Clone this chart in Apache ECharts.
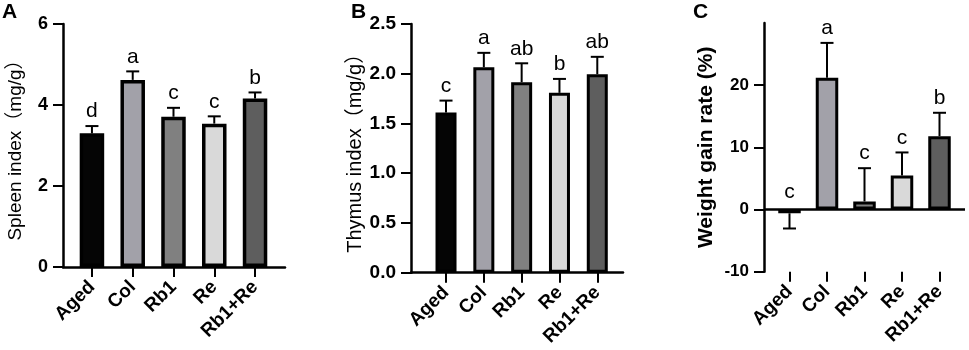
<!DOCTYPE html>
<html>
<head>
<meta charset="utf-8">
<script src="https://cdn.jsdelivr.net/npm/echarts@6.0.0/dist/echarts.min.js"></script>
<style>
html, body { margin: 0; padding: 0; background: #fff; }
#chart { width: 969px; height: 350px; }
</style>
</head>
<body>
<div id="chart"></div>
<script>
const categories = ['Aged', 'Col', 'Rb1', 'Re', 'Rb1+Re'];

// panel A: spleen index
const spleenMean = [3.30, 4.62, 3.71, 3.54, 4.16];
const spleenErr = [0.18, 0.21, 0.22, 0.18, 0.15];
const spleenLetters = ['d', 'a', 'c', 'c', 'b'];
const spleenTicks = [0, 2, 4, 6];

// panel B: thymus index
const thymusMean = [1.61, 2.065, 1.915, 1.808, 1.995];
const thymusErr = [0.12, 0.145, 0.19, 0.14, 0.175];
const thymusLetters = ['c', 'a', 'ab', 'b', 'ab'];
const thymusTicks = [0, 0.5, 1.0, 1.5, 2.0, 2.5];

// panel C: weight gain rate
const weightMean = [-0.6, 21.2, 1.3, 5.48, 11.8];
const weightErr = [2.45, 5.6, 5.35, 3.7, 3.76];
const weightLetters = ['c', 'a', 'c', 'c', 'b'];
const weightTicks = [-10, 0, 10, 20];

const barColors = ['#050505', '#a2a1a9', '#808080', '#d9d9d9', '#5e5e5e'];
const FONT = "'Liberation Sans', Arial, 'Noto Sans CJK SC', sans-serif";
const catIdx = categories.map((c, i) => i);

const panels = [
    { grid: { left: 63, top: 24, width: 222, height: 243 }, xmin: -0.71, xmax: 4.735,
      ymin: 0, ymax: 6, interval: 2, ticks: spleenTicks, fmt: v => String(v), tickSize: 18,
      mean: spleenMean, err: spleenErr, letters: spleenLetters,
      name: 'Spleen index（mg/g）', nameGap: 38, nameSize: 19, nameBold: 'normal',
      barWidth: 24.5, border: 3.5 },
    { grid: { left: 411, top: 24, width: 212, height: 248.7 }, xmin: -0.926, xmax: 4.68,
      ymin: 0, ymax: 2.5, interval: 0.5, ticks: thymusTicks, fmt: v => v.toFixed(1), tickSize: 19,
      mean: thymusMean, err: thymusErr, letters: thymusLetters,
      name: 'Thymus index（mg/g）', nameGap: 42, nameSize: 20, nameBold: 'normal',
      barWidth: 21, border: 3 },
    { grid: { left: 764, top: 23, width: 201, height: 248.7 }, xmin: -0.68, xmax: 4.68,
      ymin: -10, ymax: 30, interval: 10, ticks: weightTicks, fmt: v => v === 30 ? '' : String(v), tickSize: 17,
      mean: weightMean, err: weightErr, letters: weightLetters,
      name: 'Weight gain rate (%)', nameGap: 47, nameSize: 21, nameBold: 'bold',
      barWidth: 22.5, border: 3, zeroLine: true }
];

function errorRenderer(letters) {
    return function (params, api) {
        const i = api.value(0), v = api.value(1), e = api.value(2);
        const end = v < 0 ? v - e : v + e;
        const p0 = api.coord([i, v]);
        const p1 = api.coord([i, end]);
        const topY = v < 0 ? api.coord([i, 0])[1] - 3 : p1[1];
        const half = 6.5;
        const st = { stroke: '#000', lineWidth: 2 };
        return {
            type: 'group',
            children: [
                { type: 'line', shape: { x1: p0[0], y1: p0[1], x2: p1[0], y2: p1[1] }, style: st },
                { type: 'line', shape: { x1: p1[0] - half, y1: p1[1], x2: p1[0] + half, y2: p1[1] }, style: st },
                { type: 'text', x: p1[0], y: topY - 4,
                  style: { text: letters[params.dataIndex], fill: '#000', font: '21px ' + FONT,
                           align: 'center', verticalAlign: 'bottom' } }
            ]
        };
    };
}

const panelTitle = (t, x) => ({ text: t, left: x, top: 2, padding: 0,
    textStyle: { fontSize: 21, fontWeight: 'bold', color: '#000', fontFamily: FONT } });

const option = {
    animation: false,
    backgroundColor: '#fff',
    title: [panelTitle('A', 2), panelTitle('B', 351), panelTitle('C', 693)],
    grid: panels.map(p => p.grid),
    xAxis: panels.map((p, k) => ({
        gridIndex: k, type: 'value', min: p.xmin, max: p.xmax,
        splitLine: { show: false },
        axisLine: { show: !p.zeroLine, onZero: false, lineStyle: { color: '#000', width: 2.5 } },
        axisTick: { show: true, customValues: catIdx, length: 10, lineStyle: { color: '#000', width: 2 } },
        axisLabel: { customValues: catIdx, formatter: v => categories[v], rotate: 45, margin: 17,
                     fontSize: 19, fontWeight: 'bold', color: '#000', fontFamily: FONT }
    })),
    yAxis: panels.map((p, k) => ({
        gridIndex: k, type: 'value', min: p.ymin, max: p.ymax, interval: p.interval,
        splitLine: { show: false },
        axisLine: { show: true, onZero: false, lineStyle: { color: '#000', width: 2.5 } },
        axisTick: { show: true, customValues: p.ticks, length: 10, lineStyle: { color: '#000', width: 2 } },
        axisLabel: { formatter: p.fmt, margin: 15, fontSize: p.tickSize, fontWeight: 'bold', color: '#000', fontFamily: FONT },
        name: p.name, nameLocation: 'middle', nameGap: p.nameGap,
        nameTextStyle: { fontSize: p.nameSize, fontWeight: p.nameBold, color: '#000', fontFamily: FONT }
    })),
    series: []
};

panels.forEach((p, k) => {
    const bar = {
        type: 'bar', xAxisIndex: k, yAxisIndex: k, barWidth: p.barWidth,
        data: p.mean.map((v, i) => ({ value: [i, v], itemStyle: { color: barColors[i] } })),
        itemStyle: { borderColor: '#000', borderWidth: p.border }
    };
    if (p.zeroLine) {
        bar.markLine = {
            silent: true, symbol: 'none', label: { show: false },
            lineStyle: { color: '#000', width: 2.5, type: 'solid' },
            data: [{ yAxis: 0 }]
        };
    }
    option.series.push(bar);
    option.series.push({
        type: 'custom', xAxisIndex: k, yAxisIndex: k, z: 3,
        data: p.mean.map((v, i) => [i, v, p.err[i]]),
        renderItem: errorRenderer(p.letters)
    });
});

const chart = echarts.init(document.getElementById('chart'));
chart.setOption(option);
</script>
</body>
</html>
